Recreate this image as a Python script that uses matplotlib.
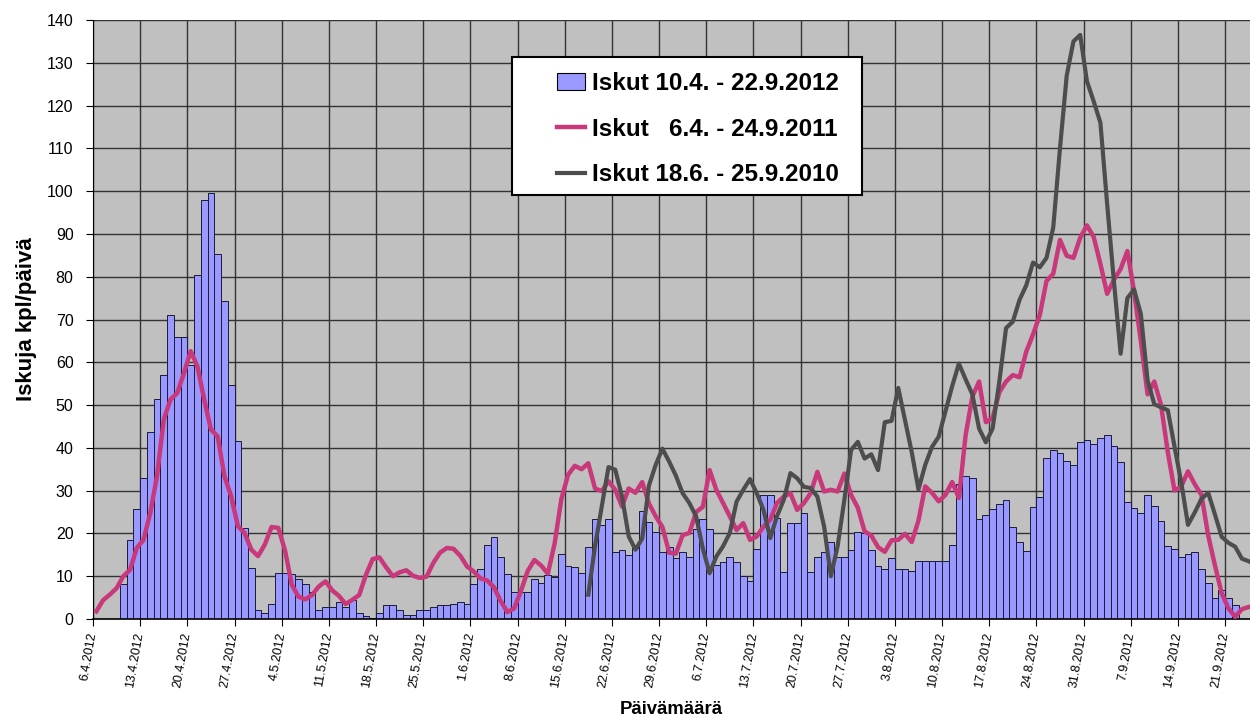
import datetime as dt
import numpy as np
import matplotlib
matplotlib.use('Agg')
import matplotlib.pyplot as plt
from matplotlib.patches import Patch, Rectangle
from matplotlib.lines import Line2D

plt.rcParams['font.family'] = ['Liberation Sans', 'DejaVu Sans']

# x axis = days counted from 6.4.2012
start_date = dt.date(2012, 4, 6)

# Iskut 10.4. - 22.9.2012 (one bar per day, first bar = day 4)
first_day_2012 = 4
bars_2012 = [8.2, 18.5, 25.6, 33, 43.7, 51.4, 57, 71, 66, 66, 59.3, 80.3, 98, 99.5, 85.3, 74.4,
             54.8, 41.5, 21.3, 11.9, 2.0, 1.4, 3.4, 10.8, 10.8,
             10.5, 9.3, 8.2, 6.2, 2.1, 2.7, 2.7, 3.9, 2.9, 4.5, 1.3, 0.8, 0.3, 1.3, 3.3, 3.3,
             2.0, 0.9, 0.9, 2.0, 2.0, 2.7, 3.3, 3.3, 3.5, 3.9, 3.5,
             8.1, 11.8, 17.2, 19.2, 14.6, 10.6, 6.2, 6.2, 6.3, 9.4, 8.4, 10.4, 9.8, 15.2, 12.5,
             12.1, 10.8, 16.8, 23.4, 21.9, 23.4, 15.6, 16.2, 15.0, 16.6,
             25.3, 22.6, 20.3, 15.7, 16.9, 14.2, 15.6, 14.4, 21, 23.4, 21, 12.7, 13.3, 14.6, 13.3,
             10.0, 8.8, 16.3, 29, 29, 23.5, 10.9, 22.5, 22.5, 24.7,
             10.9, 14.6, 15.6, 18, 14.6, 14.6, 16.2, 20.4, 20.0, 16.1, 12.4, 11.8, 14.2, 11.6,
             11.6, 11.2, 13.5, 13.5, 13.5, 13.5, 13.5,
             17.4, 31.6, 33.4, 33, 23.3, 24.2, 25.8, 26.8, 27.9, 21.5, 18, 16, 26.2, 28.5, 37.6,
             39.5, 38.7, 37, 36.1, 41.3, 41.8, 40.8, 42.4, 43, 40.4, 36.8,
             27.4, 26, 24.7, 28.9, 26.4, 22.8, 17.1, 16.4, 14.4, 15.3, 15.7, 11.7, 8.4, 4.9,
             6.8, 4.9, 3.3]

# Iskut 6.4. - 24.9.2011 (starts day 0)
first_day_2011 = 0
line_2011 = [1.8, 4.4, 5.7, 7.2, 10, 11.5, 16.6, 18.5, 24.8, 33.4,
             46.6, 51.3, 52.8, 57.5, 62.6, 59, 51.3, 44.3, 42.7, 33.4,
             28.7, 21.7, 20.1, 16.2, 14.7, 17.4, 21.5, 21.3, 16, 8,
             5.2, 4.6, 5.6, 7.6, 8.8, 6.7, 5.4, 3.5, 4.5, 5.6,
             10.3, 14, 14.4, 12.1, 10, 10.9, 11.4, 10.1, 9.6, 9.9,
             13.1, 15.5, 16.6, 16.4, 14.8, 12.3, 11.1, 9.5, 9, 7.4,
             4.2, 1.6, 2.5, 6.5, 11.2, 13.8, 12.5, 10.6, 17.6, 28,
             33.7, 35.8, 35, 36.4, 30.5, 29.9, 32.2, 30.2, 26.3, 30.5,
             29.5, 32, 27, 24, 21.5, 15.5, 15.3, 19.6, 20.1, 25,
             26.2, 34.8, 30.2, 27.1, 24, 20.8, 22.4, 18.5, 19.3, 21.6,
             23.2, 27.1, 28.6, 29.4, 25.5, 27.1, 29.4, 34.4, 29.8, 30.2,
             29.8, 34, 29, 26, 20.5, 19.5, 16.8, 15.7, 18.4, 18.5,
             19.9, 18, 23, 31, 29.5, 27.5, 29, 32, 28.3, 43,
             52, 55.5, 46, 47, 53, 55.5, 57, 56.5, 62.5, 66.5,
             71, 79, 80.7, 88.6, 84.9, 84.4, 89.1, 92, 89.3, 83,
             76, 79.3, 81.8, 86, 76.5, 65, 52.5, 55.5, 50, 39,
             30, 31, 34.5, 31.5, 29, 19.5, 12.5, 6, 2.5, 0.5,
             2.3, 2.8]

# Iskut 18.6. - 25.9.2010 (starts day 73)
first_day_2010 = 73
line_2010 = [5.7, 17, 26.3, 35.5, 34.9, 28.7, 19.3, 16.2, 18.8, 31.2,
             36, 39.8, 36.8, 33.5, 29.4, 27.1, 24, 16.5, 10.7, 14.6,
             17, 20.1, 27.4, 30.2, 32.7, 29.4, 25.5, 18.9, 24, 27.8,
             34.1, 32.9, 30.9, 30.6, 28.6, 21.6, 10, 17, 27.8, 39.5,
             41.4, 37.5, 38.5, 34.8, 46, 46.3, 54, 46.5, 39, 30.3,
             36, 40.2, 42.6, 48.5, 54.4, 59.7, 56, 52.5, 44.5, 41.3,
             44.5, 55.5, 68, 69.5, 74.6, 78, 83.3, 82.2, 84.4, 91.5,
             110, 127, 135, 136.5, 125.7, 121, 116, 97, 79, 62,
             75, 77, 71.3, 55.8, 50.2, 49.5, 48.8, 40.3, 31.9, 22,
             24.9, 28.1, 29.5, 24.4, 19.2, 17.8, 16.9, 14.1, 13.5, 12.7]

legend_labels = ['Iskut 10.4. - 22.9.2012', 'Iskut   6.4. - 24.9.2011', 'Iskut 18.6. - 25.9.2010']

tick_days = list(range(0, 172, 7))
tick_labels = []
for d in tick_days:
    t = start_date + dt.timedelta(days=d)
    tick_labels.append('%d.%d.%d' % (t.day, t.month, t.year))

bar_col = '#9999FF'
col_2011 = '#C8387A'
col_2010 = '#4D4D4D'

fig = plt.figure(figsize=(12.5, 7.17), dpi=100)
ax = fig.add_axes([93 / 1250, 98 / 717, 1157 / 1250, 599 / 717])
ax.set_facecolor('#C0C0C0')

x12 = np.arange(len(bars_2012)) + first_day_2012
ax.bar(x12, bars_2012, width=1, align='edge', color=bar_col, edgecolor='#1a1a3a', linewidth=0.7, zorder=2)

x11 = np.arange(len(line_2011)) + first_day_2011 + 0.5
ax.plot(x11, line_2011, color=col_2011, lw=3.2, zorder=3, solid_joinstyle='round')

x10 = np.arange(len(line_2010)) + first_day_2010 + 0.5
ax.plot(x10, line_2010, color=col_2010, lw=3.0, zorder=4, solid_joinstyle='round')

ax.set_xlim(0, 171.7)
ax.set_ylim(0, 140)
ax.set_yticks(range(0, 141, 10))
ax.set_xticks(tick_days)
ax.set_xticklabels(tick_labels, rotation=80, ha='right', va='center', rotation_mode='anchor', fontsize=9)
ax.tick_params(axis='y', labelsize=11.5, direction='out', length=5, pad=9)
ax.tick_params(axis='x', direction='out', length=5, pad=5)

ax.set_axisbelow(True)
ax.grid(True, color='#333333', lw=1)

for s in ['top', 'right']:
    ax.spines[s].set_visible(False)
ax.spines['left'].set_color('black')
ax.spines['bottom'].set_color('black')
ax.spines['bottom'].set_linewidth(1.2)

ax.set_ylabel('Iskuja kpl/päivä', fontsize=16, fontweight='bold')
ax.yaxis.set_label_coords(-0.048, 0.5)
ax.set_xlabel('Päivämäärä', fontsize=13.3, fontweight='bold')
ax.xaxis.set_label_coords(0.5, -0.137)

# legend frame drawn as a box, legend entries placed inside it
ax.add_patch(Rectangle((0.362, 0.708), 0.303, 0.230, transform=ax.transAxes,
                       facecolor='white', edgecolor='black', linewidth=1.5, zorder=6))
handles = [Patch(facecolor=bar_col, edgecolor='black', linewidth=0.8),
           Line2D([], [], color=col_2011, lw=3.2),
           Line2D([], [], color=col_2010, lw=3.0)]
leg = ax.legend(handles, legend_labels, loc='upper left', bbox_to_anchor=(0.401, 0.913),
                borderaxespad=0, borderpad=0, prop={'weight': 'bold', 'size': 17.5},
                labelspacing=0.93, handlelength=1.15, handletextpad=0.3, frameon=False)
leg.set_zorder(7)

fig.savefig('out.png', dpi=100)
